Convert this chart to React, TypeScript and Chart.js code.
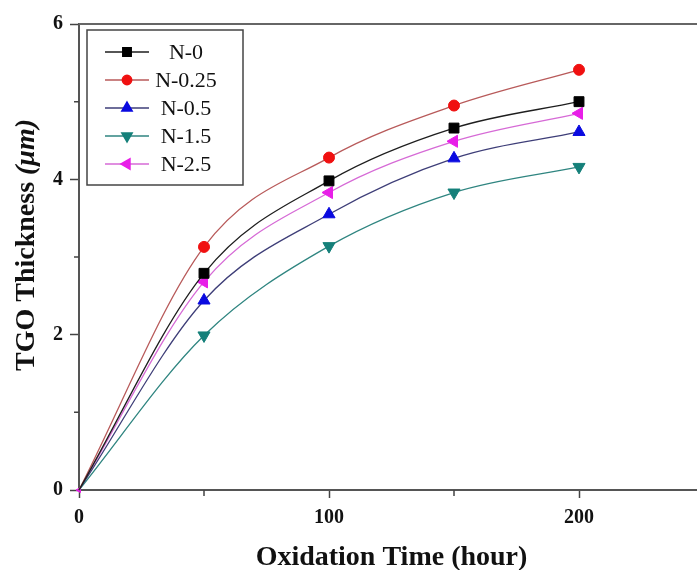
import React, { useEffect, useRef } from "react";
import { Chart, registerables } from "chart.js";
import { drawPoint } from "chart.js/helpers";

Chart.register(...registerables);

const xValues = [0, 50, 100, 150, 200];
const seriesNames = ["N-0", "N-0.25", "N-0.5", "N-1.5", "N-2.5"];
const n0 = [0, 2.79, 3.98, 4.66, 5.0];
const n025 = [0, 3.13, 4.28, 4.95, 5.41];
const n05 = [0, 2.44, 3.55, 4.27, 4.61];
const n15 = [0, 1.99, 3.14, 3.83, 4.16];
const n25 = [0, 2.68, 3.83, 4.49, 4.85];
const seriesValues = [n0, n025, n05, n15, n25];
const yMajorLabels = [0, 2, 4, 6];
const xMajorLabels = [0, 100, 200];
const xTitle = "Oxidation Time (hour)";
const yTitleMain = "TGO Thickness ";
const yTitleUnit = "(\u03bcm)";

const lineColors = ["#1e1e1e", "#b85a5a", "#3e3e78", "#2f8580", "#d66ad6"];
const markerColors = ["#000000", "#f01010", "#0a0ae0", "#15807a", "#e81ee8"];
const markerStyles = ["rect", "circle", "triangle", "triangle", "triangle"];
const markerRotations = [0, 0, 0, 180, 270];
const markerRadii = [7, 5.5, 7, 7, 7];

const SERIF = "'Liberation Serif', 'Times New Roman', serif";

const decorPlugin = {
  id: "decor",
  afterDraw(chart: any) {
    const { ctx, chartArea } = chart;
    const { left, right, top, bottom } = chartArea;
    const xs = chart.scales.x;
    const ys = chart.scales.y;
    ctx.save();
    // frame top/right
    ctx.strokeStyle = "#666";
    ctx.lineWidth = 2;
    ctx.beginPath();
    ctx.moveTo(left, top);
    ctx.lineTo(right, top);
    ctx.lineTo(right, bottom);
    ctx.stroke();
    // minor ticks
    ctx.lineWidth = 1.5;
    ctx.strokeStyle = "#444";
    ctx.beginPath();
    [1, 3, 5].forEach((v) => {
      const py = ys.getPixelForValue(v);
      ctx.moveTo(left - 5, py);
      ctx.lineTo(left, py);
    });
    [50, 150, 250].forEach((v) => {
      const px = xs.getPixelForValue(v);
      ctx.moveTo(px, bottom);
      ctx.lineTo(px, bottom + 6);
    });
    ctx.stroke();

    // legend
    const bx = 87, by = 30, bw = 156, bh = 155;
    ctx.fillStyle = "#fff";
    ctx.fillRect(bx, by, bw, bh);
    ctx.strokeStyle = "#444";
    ctx.lineWidth = 1.5;
    ctx.strokeRect(bx, by, bw, bh);
    ctx.font = `22px ${SERIF}`;
    ctx.textAlign = "center";
    ctx.textBaseline = "middle";
    seriesNames.forEach((name, i) => {
      const ry = 52 + i * 28;
      ctx.strokeStyle = lineColors[i];
      ctx.lineWidth = 1.5;
      ctx.beginPath();
      ctx.moveTo(105, ry);
      ctx.lineTo(149, ry);
      ctx.stroke();
      ctx.fillStyle = markerColors[i];
      ctx.strokeStyle = markerColors[i];
      drawPoint(
        ctx,
        {
          pointStyle: markerStyles[i],
          rotation: markerRotations[i],
          radius: markerRadii[i] * 0.85,
          borderWidth: 1,
        } as any,
        127,
        ry
      );
      ctx.fillStyle = "#111";
      ctx.fillText(name, 186, ry + 1);
    });

    // x title
    ctx.fillStyle = "#111";
    ctx.font = `bold 28px ${SERIF}`;
    ctx.textAlign = "center";
    ctx.textBaseline = "middle";
    ctx.fillText(xTitle, (left + right) / 2, 558);

    // y title
    ctx.save();
    ctx.translate(27, 245);
    ctx.rotate(-Math.PI / 2);
    const mainFont = `bold 28px ${SERIF}`;
    const unitFont = `bold italic 28px ${SERIF}`;
    ctx.font = mainFont;
    const w1 = ctx.measureText(yTitleMain).width;
    ctx.font = unitFont;
    const w2 = ctx.measureText(yTitleUnit).width;
    const start = -(w1 + w2) / 2;
    ctx.textAlign = "left";
    ctx.font = mainFont;
    ctx.fillText(yTitleMain, start, 0);
    ctx.font = unitFont;
    ctx.fillText(yTitleUnit, start + w1, 0);
    ctx.restore();

    ctx.restore();
  },
};

export default function App() {
  const canvasRef = useRef<HTMLCanvasElement | null>(null);

  useEffect(() => {
    const canvas = canvasRef.current;
    if (!canvas) return;
    const datasets = seriesNames.map((name, i) => ({
      label: name,
      data: xValues.map((x, j) => ({ x, y: seriesValues[i][j] })),
      borderColor: lineColors[i],
      backgroundColor: markerColors[i],
      pointBackgroundColor: markerColors[i],
      pointBorderColor: markerColors[i],
      borderWidth: 1.3,
      pointStyle: markerStyles[i],
      rotation: markerRotations[i],
      pointRadius: (c: any) => (c.dataIndex === 0 ? (i === 4 ? 3 : 0) : markerRadii[i]),
      pointBorderWidth: 1,
      cubicInterpolationMode: "monotone" as const,
      fill: false,
      clip: false as any,
    }));

    const chart = new Chart(canvas, {
      type: "line",
      data: { datasets },
      options: {
        responsive: false,
        animation: false,
        events: [],
        layout: { padding: { left: 0, top: 24, right: 16, bottom: 0 } },
        plugins: {
          legend: { display: false },
          tooltip: { enabled: false },
        },
        scales: {
          x: {
            type: "linear",
            min: 0,
            max: 250,
            afterFit: (s: any) => {
              s.height = 80;
            },
            ticks: {
              stepSize: 50,
              autoSkip: false,
              maxRotation: 0,
              padding: 8,
              color: "#111",
              font: { family: SERIF, weight: "bold", size: 20 },
              callback: (v: any) => (xMajorLabels.includes(Number(v)) ? String(v) : ""),
            },
            grid: {
              drawOnChartArea: false,
              drawTicks: true,
              tickLength: 8,
              tickWidth: 1.5,
              tickColor: (c: any) =>
                c.tick && xMajorLabels.includes(c.tick.value) ? "#444" : "rgba(0,0,0,0)",
            },
            border: { display: true, color: "#555", width: 2 },
            title: { display: false },
          },
          y: {
            type: "linear",
            min: 0,
            max: 6,
            afterFit: (s: any) => {
              s.width = 79;
            },
            ticks: {
              stepSize: 1,
              autoSkip: false,
              padding: 7,
              color: "#111",
              font: { family: SERIF, weight: "bold", size: 20 },
              callback: (v: any) => (yMajorLabels.includes(Number(v)) ? String(v) : ""),
            },
            grid: {
              drawOnChartArea: false,
              drawTicks: true,
              tickLength: 9,
              tickWidth: 1.5,
              tickColor: (c: any) =>
                c.tick && yMajorLabels.includes(c.tick.value) ? "#444" : "rgba(0,0,0,0)",
            },
            border: { display: true, color: "#555", width: 2 },
            title: { display: false },
          },
        },
      },
      plugins: [decorPlugin],
    });
    return () => chart.destroy();
  }, []);

  return (
    <div
      style={{
        position: "fixed",
        left: 0,
        top: 0,
        width: 697,
        height: 570,
        overflow: "hidden",
        background: "#fff",
      }}
    >
      <canvas ref={canvasRef} width={720} height={570} style={{ display: "block" }} />
    </div>
  );
}
